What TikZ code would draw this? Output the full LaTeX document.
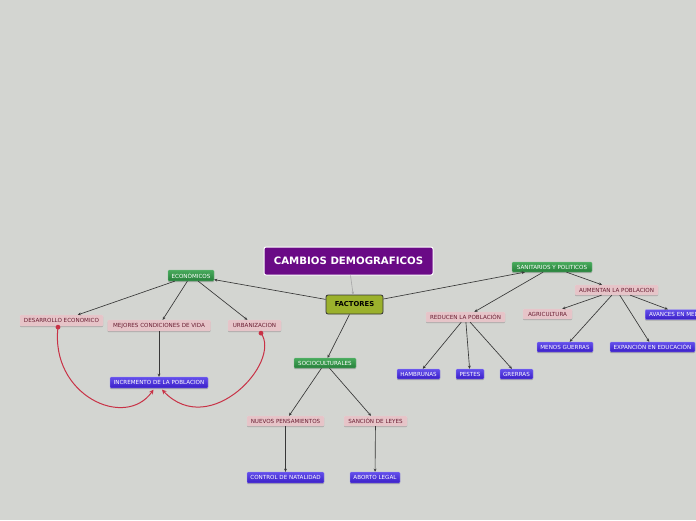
\documentclass[tikz,border=0pt]{standalone}
\usepackage{fontspec}
\setmainfont{DejaVu Sans}
\usetikzlibrary{shadows,calc,arrows.meta}
\definecolor{bgc}{RGB}{211,213,209}
\definecolor{purplec}{RGB}{106,10,134}
\definecolor{olivec}{RGB}{155,177,44}
\definecolor{pinkc}{RGB}{230,196,200}
\definecolor{pinktext}{RGB}{105,30,50}
\definecolor{greentop}{RGB}{72,170,92}
\definecolor{greenbot}{RGB}{38,128,58}
\definecolor{bluetop}{RGB}{100,80,235}
\definecolor{bluebot}{RGB}{58,30,200}
\definecolor{linec}{RGB}{55,55,55}
\definecolor{redc}{RGB}{200,50,70}
\tikzset{
  smallfont/.style={font=\fontsize{5.6}{6.5}\selectfont},
  basebox/.style={inner sep=0pt, rounded corners=1pt, smallfont,
    drop shadow={shadow xshift=0pt, shadow yshift=-1.2pt, fill=black!45, opacity=0.6}},
  greenbox/.style={basebox, top color=greentop, bottom color=greenbot, draw=greentop!70!white, line width=0.3pt, text=white},
  pinkbox/.style={basebox, fill=pinkc, draw=pinkc!80!white, line width=0.3pt, text=pinktext},
  bluebox/.style={basebox, top color=bluetop, bottom color=bluebot, draw=bluetop!60!white, line width=0.3pt, text=white},
  arr/.style={draw=linec, line width=0.65pt, -{Stealth[length=3.2pt,width=2.8pt]}},
  redarr/.style={draw=redc, line width=1pt, -{Stealth[length=4.5pt,width=4.5pt]}},
}
\begin{document}
\begin{tikzpicture}[x=1pt,y=-1pt]
\useasboundingbox (0,0) rectangle (696,520);
\fill[bgc] (0,0) rectangle (696,520);
\clip (0,0) rectangle (696,520);

\node[fill=purplec, draw=white, line width=1pt, rounded corners=2pt, text=white,
  font=\fontsize{10.2}{12}\selectfont\bfseries, minimum width=169pt, minimum height=28pt, inner sep=0pt]
  (cambios) at (348.5,261) {CAMBIOS DEMOGRAFICOS};
\node[fill=olivec, draw=black!80, line width=0.8pt, rounded corners=2pt,
  font=\fontsize{6.8}{8}\selectfont\bfseries, minimum width=57pt, minimum height=19pt, inner sep=0pt]
  (factores) at (354.5,304.5) {FACTORES};

\node[greenbox, minimum width=46pt, minimum height=11pt] (econ) at (191,275.5) {ECONÓMICOS};
\node[greenbox, minimum width=80pt, minimum height=10pt] (sanit) at (552,267) {SANITARIOS Y POLITICOS};
\node[greenbox, minimum width=62pt, minimum height=10pt] (socio) at (325,363) {SOCIOCULTURALES};

\node[pinkbox, minimum width=83pt, minimum height=11pt] (desarrollo) at (61.5,320.5) {DESARROLLO ECONOMICO};
\node[pinkbox, minimum width=103pt, minimum height=11pt] (mejores) at (159,325.5) {MEJORES CONDICIONES DE VIDA};
\node[pinkbox, minimum width=53pt, minimum height=11pt] (urban) at (254.5,325.5) {URBANIZACION};
\node[pinkbox, minimum width=79pt, minimum height=10pt] (reducen) at (465.5,317) {REDUCEN LA POBLACIÓN};
\node[pinkbox, minimum width=49pt, minimum height=10pt] (agri) at (547.5,314) {AGRICULTURA};
\node[pinkbox, minimum width=83pt, minimum height=10pt] (aumentan) at (616.5,290) {AUMENTAN LA POBLACION};
\node[pinkbox, minimum width=77pt, minimum height=10pt] (nuevos) at (285.5,421) {NUEVOS PENSAMIENTOS};
\node[pinkbox, minimum width=63pt, minimum height=10pt] (sancion) at (375.5,421) {SANCIÓN DE LEYES};

\node[bluebox, minimum width=98pt, minimum height=11pt] (incremento) at (159,382.5) {INCREMENTO DE LA POBLACION};
\node[bluebox, minimum width=43pt, minimum height=10pt] (hambrunas) at (418.5,374) {HAMBRUNAS};
\node[bluebox, minimum width=28pt, minimum height=10pt] (pestes) at (470,374) {PESTES};
\node[bluebox, minimum width=33pt, minimum height=10pt] (grerras) at (516.5,374) {GRERRAS};
\node[bluebox, minimum width=56pt, minimum height=10pt] (menos) at (565,347) {MENOS GUERRAS};
\node[bluebox, minimum width=85pt, minimum height=10pt] (expancion) at (652.5,347) {EXPANCIÓN EN EDUCACIÓN};
\node[bluebox, minimum width=73pt, minimum height=10pt, anchor=west] (avances) at (645,314.5) {AVANCES EN MEDICINA};
\node[bluebox, minimum width=77pt, minimum height=11pt] (control) at (285.5,477.5) {CONTROL DE NATALIDAD};
\node[bluebox, minimum width=50pt, minimum height=11pt] (aborto) at (375,477.5) {ABORTO LEGAL};

% connectors
\draw[draw=black!35, line width=0.6pt, -{Stealth[length=3pt,width=2.6pt]}] (cambios) -- (factores);
\draw[arr] (factores) -- (econ);
\draw[arr] (factores) -- (sanit);
\draw[arr] (factores) -- (socio);
\draw[arr] (econ) -- (desarrollo);
\draw[arr] (econ) -- (mejores);
\draw[arr] (econ) -- (urban);
\draw[arr] (mejores) -- (incremento);
\draw[arr] (sanit) -- (reducen);
\draw[arr] (sanit) -- (aumentan);
\draw[arr] (aumentan) -- (agri);
\draw[arr] (aumentan) -- (avances);
\draw[arr] (aumentan) -- (menos);
\draw[arr] (aumentan) -- (expancion);
\draw[arr] (reducen) -- (hambrunas);
\draw[arr] (reducen) -- (pestes);
\draw[arr] (reducen) -- (grerras);
\draw[arr] (socio) -- (nuevos);
\draw[arr] (socio) -- (sancion);
\draw[arr] (nuevos) -- (control);
\draw[arr] (sancion) -- (aborto);

% red curved relations
\coordinate (d0) at ($(desarrollo.south)+(-3.5,1)$);
\coordinate (u0) at ($(urban.south)+(6.5,2)$);
\draw[redarr] (d0) .. controls (50,395) and (125,430) .. ($(incremento.south)+(-5.5,1.5)$);
\draw[redarr] (u0) .. controls (282,362) and (210,440) .. ($(incremento.south)+(3,1.5)$);
\fill[redc] (d0) circle (2.4pt);
\fill[redc] (u0) circle (2.4pt);
\end{tikzpicture}
\end{document}
